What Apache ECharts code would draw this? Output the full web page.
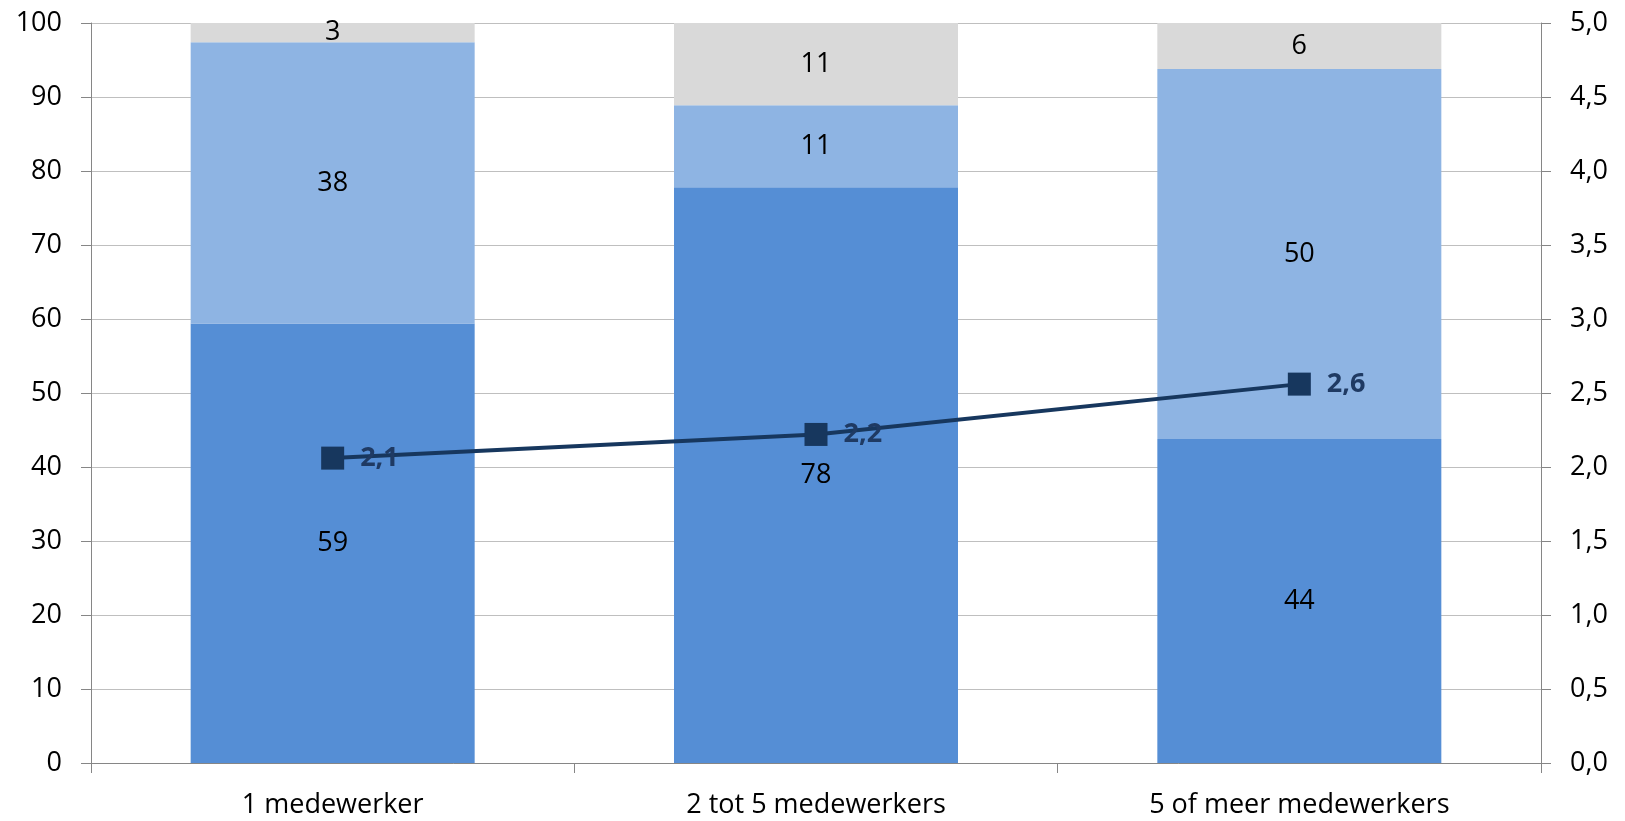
<!DOCTYPE html>
<html>
<head>
<meta charset="utf-8">
<script src="https://cdn.jsdelivr.net/npm/echarts@6/dist/echarts.min.js"></script>
<style>html,body{margin:0;padding:0;background:#fff}#c{width:1625px;height:821px}</style>
</head>
<body>
<div id="c"></div>
<script>
var categories = ['1 medewerker', '2 tot 5 medewerkers', '5 of meer medewerkers'];
var serieA = [59.4, 77.8, 43.8];
var serieB = [38.0, 11.1, 50.0];
var serieC = [2.6, 11.1, 6.2];
var lineValues = [2.06, 2.22, 2.56];
var leftTicks = {min: 0, max: 100, interval: 10};
var rightTicks = {min: 0, max: 5, interval: 0.5};

var FONT = 'Open Sans';
var FS = 27;
var chart = echarts.init(document.getElementById('c'));
function barLabel() {
  return {show: true, position: 'inside', color: '#000', fontFamily: FONT, fontSize: FS,
    formatter: function (p) { return Math.round(p.value); }};
}
chart.setOption({
  animation: false,
  grid: {left: 91, right: 84, top: 23, bottom: 58, containLabel: false},
  xAxis: {
    type: 'category', data: categories,
    axisLine: {lineStyle: {color: '#868686', width: 1}},
    axisTick: {show: true, length: 10, lineStyle: {color: '#868686'}},
    axisLabel: {color: '#000', fontFamily: FONT, fontSize: FS, margin: 29}
  },
  yAxis: [{
    type: 'value', min: leftTicks.min, max: leftTicks.max, interval: leftTicks.interval,
    axisLine: {show: true, lineStyle: {color: '#868686'}},
    axisTick: {show: true, length: 10, lineStyle: {color: '#868686'}},
    axisLabel: {color: '#000', fontFamily: FONT, fontSize: FS, margin: 29},
    splitLine: {lineStyle: {color: '#BFBFBF', width: 1}}
  }, {
    type: 'value', min: rightTicks.min, max: rightTicks.max, interval: rightTicks.interval,
    position: 'right',
    axisLine: {show: true, lineStyle: {color: '#868686'}},
    axisTick: {show: true, length: 10, lineStyle: {color: '#868686'}},
    axisLabel: {color: '#000', fontFamily: FONT, fontSize: FS, margin: 29,
      formatter: function (v) { return v.toFixed(1).replace('.', ','); }},
    splitLine: {show: false}
  }],
  series: [{
    type: 'bar', stack: 's', data: serieA, barWidth: 284,
    itemStyle: {color: '#558ED5'}, label: barLabel()
  }, {
    type: 'bar', stack: 's', data: serieB, barWidth: 284,
    itemStyle: {color: '#8EB4E3'}, label: barLabel()
  }, {
    type: 'bar', stack: 's', data: serieC, barWidth: 284,
    itemStyle: {color: '#D9D9D9'}, label: barLabel()
  }, {
    type: 'line', yAxisIndex: 1, data: lineValues,
    symbol: 'rect', symbolSize: 23,
    lineStyle: {color: '#17375E', width: 4},
    itemStyle: {color: '#17375E'},
    label: {show: true, position: 'right', distance: 16, color: '#1F3A63', fontFamily: FONT,
      fontSize: FS, fontWeight: 'bold',
      formatter: function (p) { return p.value.toFixed(1).replace('.', ','); }},
    z: 10
  }]
});
</script>
</body>
</html>
